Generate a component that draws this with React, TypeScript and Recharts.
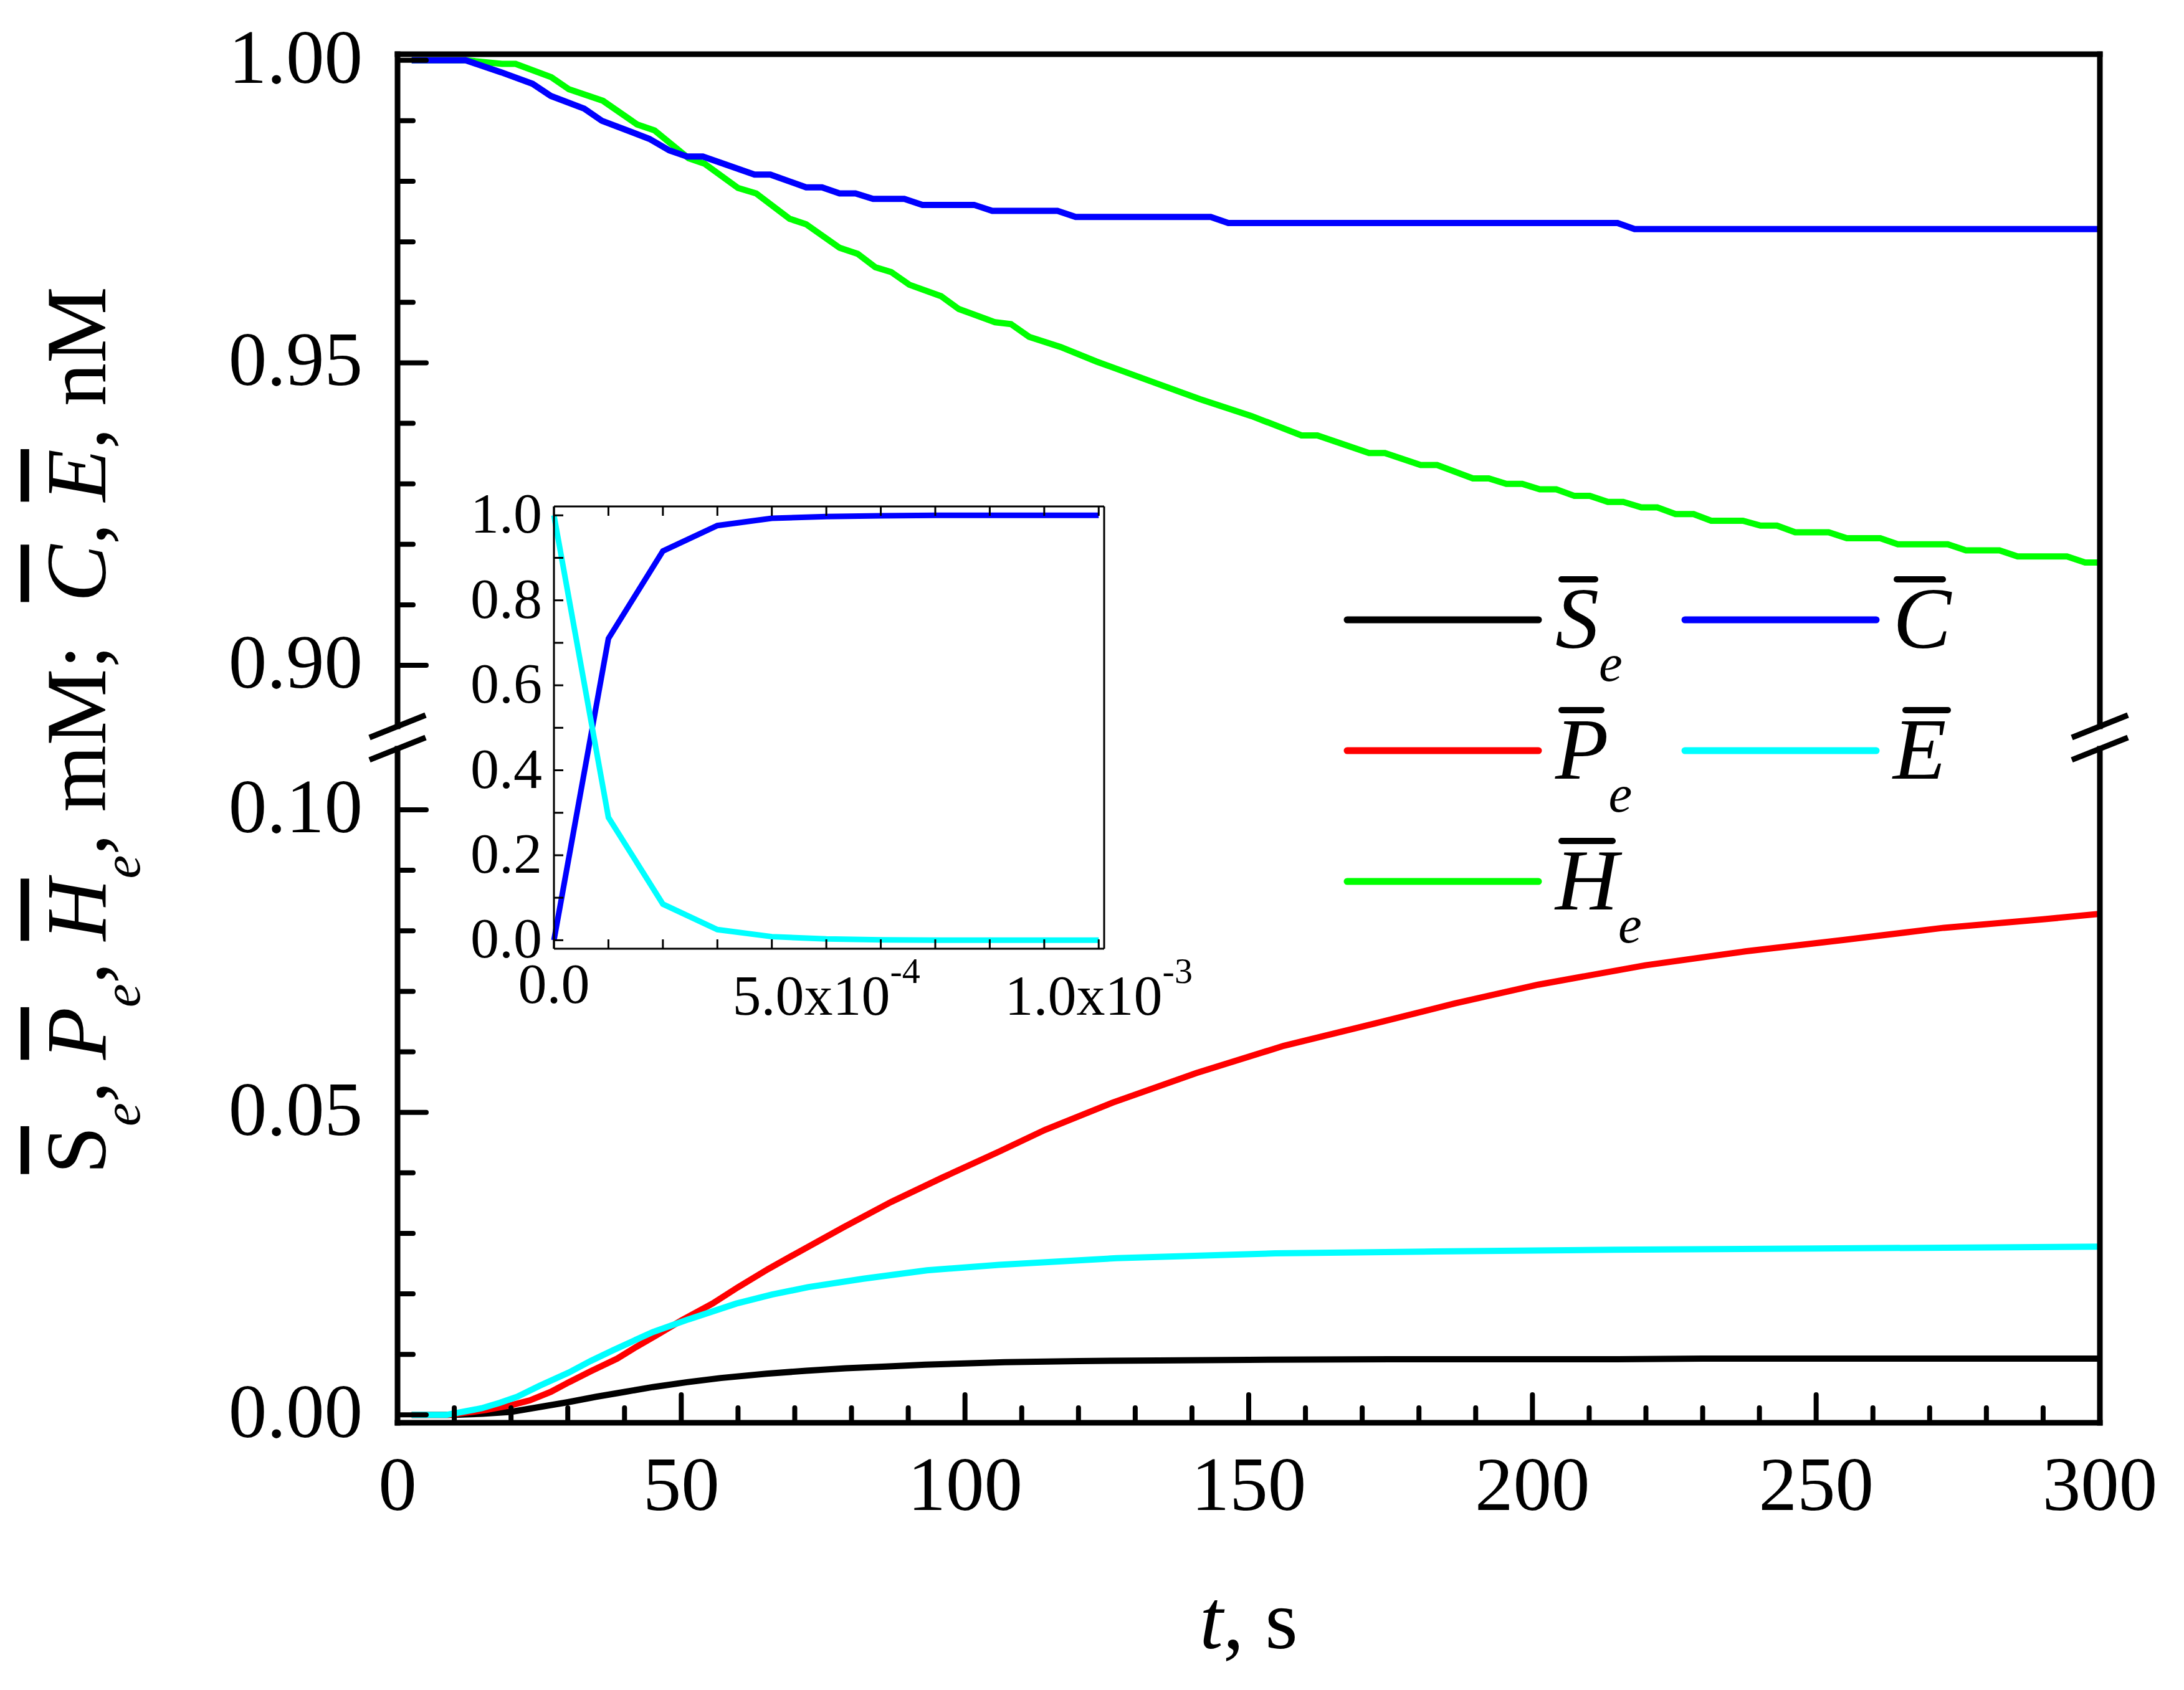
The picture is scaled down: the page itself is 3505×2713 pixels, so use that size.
import React from 'react';
import { LineChart, Line, XAxis, YAxis, ReferenceLine, Legend, Label } from 'recharts';

const FONT = '"Liberation Serif", "Times New Roman", serif';

// ---- main plot data: [t (s), value] ----
const sData: [number, number][] = [
  [2.5, 0], [10, 0], [15, 0.0002], [20, 0.0005], [25, 0.0013], [30, 0.0021], [35, 0.003],
  [40, 0.0038], [45, 0.0046], [51, 0.0054], [57, 0.0061], [65, 0.0068], [72, 0.0073],
  [79, 0.0077], [86, 0.008], [93, 0.0083], [100, 0.0085], [107, 0.0087], [120, 0.0089],
  [134, 0.009], [150, 0.0091], [175, 0.0092], [215, 0.0092], [230, 0.0093], [300, 0.0093],
];

const pData: [number, number][] = [
  [2.5, 0], [9, 0], [15.5, 0.0008], [20, 0.0016], [23.3, 0.0024], [27, 0.0038], [30.2, 0.0054],
  [34, 0.0072], [38.7, 0.0093], [42, 0.0112], [45.7, 0.0132], [50, 0.0156], [55.5, 0.0184],
  [60, 0.0211], [65.3, 0.0241], [72, 0.0276], [78.6, 0.031], [87, 0.0352], [96.2, 0.0393],
  [106, 0.0435], [114.1, 0.0471], [126, 0.0516], [140.8, 0.0565], [156.2, 0.061],
  [172.3, 0.0647], [186.3, 0.068], [201, 0.0711], [219.9, 0.0743], [237.5, 0.0766],
  [255, 0.0785], [272.5, 0.0805], [290, 0.0819], [300, 0.0828],
];

const eData: [number, number][] = [
  [2.5, 0], [8.6, 0], [14.8, 0.0011], [18, 0.002], [21.1, 0.003], [25, 0.0048], [30.2, 0.007],
  [34, 0.0089], [38, 0.0107], [45, 0.0137], [51.3, 0.0158], [59.7, 0.0184], [66, 0.0199],
  [72.3, 0.0211], [82.1, 0.0225], [93.3, 0.0239], [106, 0.0248], [126.7, 0.0259],
  [154.7, 0.0267], [182.7, 0.027], [214.3, 0.0273], [250, 0.0275], [300, 0.0278],
];

const hData: [number, number][] = [
  [2.5, 1.0], [12, 1.0], [18.4, 0.9994], [20.8, 0.9994], [27.1, 0.9972], [30.2, 0.9952],
  [36.2, 0.9933], [42.2, 0.9894], [45.3, 0.9884], [51.3, 0.9838], [54.1, 0.9829], [60, 0.9789],
  [63.2, 0.978], [69.1, 0.9738], [72, 0.9729], [77.9, 0.969], [81.1, 0.968], [84.2, 0.9658],
  [87, 0.965], [90.2, 0.9629], [95.8, 0.961], [98.9, 0.9589], [105.3, 0.9567], [108.1, 0.9564],
  [111.3, 0.9543], [116.9, 0.9526], [123.2, 0.9502], [132.3, 0.9471], [141.4, 0.944],
  [150.5, 0.9412], [159.3, 0.938], [162.1, 0.938], [171.2, 0.9351], [174, 0.9351],
  [180.3, 0.9331], [183.2, 0.9331], [189.5, 0.9309], [192.3, 0.9309], [195.4, 0.93],
  [198.2, 0.93], [201.3, 0.9291], [204.2, 0.9291], [207.4, 0.928], [210.1, 0.928],
  [213.3, 0.927], [216, 0.927], [219.2, 0.9261], [222, 0.9261], [225.2, 0.925], [228.4, 0.925],
  [231.5, 0.9239], [237.1, 0.9239], [240.2, 0.9231], [243.1, 0.9231], [246.3, 0.922],
  [252.2, 0.922], [255.4, 0.921], [261.3, 0.921], [264.4, 0.92], [273.2, 0.92], [276.4, 0.919],
  [282.3, 0.919], [285.5, 0.918], [294.2, 0.918], [297.4, 0.917], [300, 0.917],
];

const cData: [number, number][] = [
  [2.5, 1.0], [12, 1.0], [18.3, 0.998], [23.8, 0.9961], [27, 0.9941], [32.9, 0.992], [36, 0.99],
  [44.4, 0.987], [47.9, 0.9851], [51, 0.9841], [53.8, 0.9841], [62.9, 0.9811], [65.7, 0.9811],
  [72, 0.979], [74.8, 0.979], [77.9, 0.978], [80.7, 0.978], [83.8, 0.9771], [89.3, 0.9771],
  [92.5, 0.9761], [101.6, 0.9761], [104.8, 0.9751], [116.3, 0.9751], [119.5, 0.9741],
  [143.3, 0.9741], [146.4, 0.9731], [215, 0.9731], [218, 0.9721], [300, 0.9721],
];

// ---- inset data ----
const INSET_T = [0, 0.0001, 0.0002, 0.0003, 0.0004, 0.0005, 0.0006, 0.0007, 0.0008, 0.0009, 0.001];
const INSET_C = [0, 0.71, 0.916, 0.976, 0.993, 0.997, 0.999, 1, 1, 1, 1];
const INSET_E = [1, 0.289, 0.085, 0.025, 0.0084, 0.003, 0.001, 0, 0, 0, 0];

// ---- axes ----
const X_TICKS = [0, 10, 20, 30, 40, 50, 60, 70, 80, 90, 100, 110, 120, 130, 140, 150, 160, 170,
  180, 190, 200, 210, 220, 230, 240, 250, 260, 270, 280, 290, 300];
const X_LABELS = [0, 50, 100, 150, 200, 250, 300];
const Y_LOWER_TICKS = [0, 0.01, 0.02, 0.03, 0.04, 0.05, 0.06, 0.07, 0.08, 0.09, 0.1];
const Y_UPPER_TICKS = [0.9, 0.91, 0.92, 0.93, 0.94, 0.95, 0.96, 0.97, 0.98, 0.99, 1.0];
const Y_LABELS = [0, 0.05, 0.1, 0.9, 0.95, 1.0];

const INSET_X_TICKS = [0, 0.0001, 0.0002, 0.0003, 0.0004, 0.0005, 0.0006, 0.0007, 0.0008, 0.0009, 0.001];
const INSET_Y_TICKS = [0, 0.1, 0.2, 0.3, 0.4, 0.5, 0.6, 0.7, 0.8, 0.9, 1.0];
const INSET_Y_LABELS = [0, 0.2, 0.4, 0.6, 0.8, 1.0];

// axis break: the 0.90-1.00 band is moved down to sit just above 0.10
const UPPER_SHIFT = 0.77613;
const Y_MIN = -0.0013;
const Y_MAX = 1.001 - UPPER_SHIFT;
const toAxis = (v: number) => (v > 0.5 ? v - UPPER_SHIFT : v);
const fromAxis = (a: number) => (a > 0.115 ? a + UPPER_SHIFT : a);
const GAP_LO = 0.11009;
const GAP_MID = 0.11194;
const GAP_HI = 0.11379;
const SLASH_DX = 4.94;
const SLASH_DY = 0.0037;

const rows = (pts: [number, number][]) => pts.map(([t, v]) => ({ t, y: toAxis(v) }));
const Y_TICKS = [...Y_LOWER_TICKS, ...Y_UPPER_TICKS].map(toAxis);
const insetRows = INSET_T.map((t, i) => ({ t, c: INSET_C[i], e: INSET_E[i] }));

const has = (arr: number[], v: number) => arr.some((a) => Math.abs(a - v) < 1e-7);
const OL = { textDecoration: 'overline' };

const TICK_W = 8;

// ---- main ticks (drawn inward) ----
const LeftTick = ({ x, y, payload }: any) => {
  const v = fromAxis(payload.value);
  const major = has(Y_LABELS, v);
  return (
    <g>
      <line x1={x} x2={x + (major ? 46 : 25)} y1={y} y2={y} stroke="#000" strokeWidth={TICK_W} strokeLinecap="round" />
      {major && (
        <text x={x - 56} y={y + 36} textAnchor="end" fontSize={123} fontFamily={FONT} fill="#000">
          {v.toFixed(2)}
        </text>
      )}
    </g>
  );
};

const RightTick = ({ x, y, payload }: any) => {
  const major = has(Y_LABELS, fromAxis(payload.value));
  return <line x1={x} x2={x - (major ? 46 : 25)} y1={y} y2={y} stroke="#000" strokeWidth={TICK_W} strokeLinecap="round" />;
};

const BottomTick = ({ x, y, payload }: any) => {
  const major = has(X_LABELS, payload.value);
  return (
    <g>
      <line x1={x} x2={x} y1={y} y2={y - (major ? 45 : 24)} stroke="#000" strokeWidth={TICK_W} strokeLinecap="round" />
      {major && (
        <text x={x} y={y + 140} textAnchor="middle" fontSize={123} fontFamily={FONT} fill="#000">
          {payload.value}
        </text>
      )}
    </g>
  );
};

const TopTick = ({ x, y, payload }: any) => {
  const major = has(X_LABELS, payload.value);
  return <line x1={x} x2={x} y1={y} y2={y + (major ? 45 : 24)} stroke="#000" strokeWidth={TICK_W} strokeLinecap="round" />;
};

// ---- inset ticks ----
const InsetLeftTick = ({ x, y, payload }: any) => {
  const v = payload.value;
  return (
    <g>
      <line x1={x} x2={x + 15} y1={y} y2={y} stroke="#000" strokeWidth={3} />
      {has(INSET_Y_LABELS, v) && (
        <text x={x - 19} y={y + 28} textAnchor="end" fontSize={92} fontFamily={FONT} fill="#000">
          {v.toFixed(1)}
        </text>
      )}
    </g>
  );
};

const InsetRightTick = ({ x, y }: any) => (
  <line x1={x} x2={x - 15} y1={y} y2={y} stroke="#000" strokeWidth={3} />
);

const InsetBottomTick = ({ x, y, payload }: any) => {
  const v = payload.value;
  let label: React.ReactNode = null;
  if (v === 0) {
    label = (
      <text x={x} y={y + 87} textAnchor="middle" fontSize={92} fontFamily={FONT} fill="#000">0.0</text>
    );
  } else if (has([0.0005, 0.001], v)) {
    const exp = v < 0.0008 ? '-4' : '-3';
    const mant = v < 0.0008 ? '5.0x10' : '1.0x10';
    label = (
      <text x={x} y={y + 106} textAnchor="middle" fontSize={92} fontFamily={FONT} fill="#000">
        <tspan>{mant}</tspan>
        <tspan dy={-51} fontSize={58}>{exp}</tspan>
      </text>
    );
  }
  return (
    <g>
      <line x1={x} x2={x} y1={y} y2={y - 15} stroke="#000" strokeWidth={3} />
      {label}
    </g>
  );
};

const InsetTopTick = ({ x, y }: any) => (
  <line x1={x} x2={x} y1={y} y2={y + 15} stroke="#000" strokeWidth={3} />
);

// ---- titles ----
const YTitle = ({ viewBox }: any) => {
  const cx = viewBox.x + viewBox.width - 469;
  const cy = viewBox.y + viewBox.height / 2 - 13;
  return (
    <text
      x={cx}
      y={cy}
      transform={`rotate(-90, ${cx}, ${cy})`}
      textAnchor="middle"
      fontSize={138}
      fontFamily={FONT}
      fill="#000"
      style={{ whiteSpace: 'pre' }}
    >
      <tspan style={OL}>S</tspan>
      <tspan dy={55} fontSize={85} fontStyle="italic">e</tspan>
      <tspan dy={-55}>, </tspan>
      <tspan fontStyle="italic" style={OL}>P</tspan>
      <tspan dy={55} fontSize={85} fontStyle="italic">e</tspan>
      <tspan dy={-55}>, </tspan>
      <tspan fontStyle="italic" style={OL}>H</tspan>
      <tspan dy={55} fontSize={85} fontStyle="italic">e</tspan>
      <tspan dy={-55}>, mM;  </tspan>
      <tspan fontStyle="italic" style={OL}>C</tspan>
      <tspan>, </tspan>
      <tspan fontStyle="italic" style={OL}>E</tspan>
      <tspan>, nM</tspan>
    </text>
  );
};

const XTitle = ({ viewBox }: any) => (
  <text
    x={viewBox.x + viewBox.width / 2}
    y={viewBox.y + 362}
    textAnchor="middle"
    fontSize={135}
    fontFamily={FONT}
    fill="#000"
  >
    <tspan fontStyle="italic">t</tspan>
    <tspan>, s</tspan>
  </text>
);

// ---- legend ----
const LEGEND_ROWS = [
  { col: 0, row: 0, color: '#000000', sym: 'S', sub: true },
  { col: 0, row: 1, color: '#FF0000', sym: 'P', sub: true },
  { col: 0, row: 2, color: '#00FF00', sym: 'H', sub: true },
  { col: 1, row: 0, color: '#0000FF', sym: 'C', sub: false },
  { col: 1, row: 1, color: '#00FFFF', sym: 'E', sub: false },
];
// overbar extent above each symbol, relative to the legend line start
const BAR: Record<string, [number, number]> = {
  S: [344, 398], P: [344, 408], H: [344, 426], C: [340, 414], E: [354, 422],
};

const LegendBox = () => (
  <svg width={1000} height={640} style={{ overflow: 'visible' }}>
    {LEGEND_ROWS.map((r) => {
      const x0 = r.col === 0 ? 22 : 564;
      const ly = 95 + r.row * 210;
      return (
        <g key={r.sym}>
          <line x1={x0} x2={x0 + 307} y1={ly} y2={ly} stroke={r.color} strokeWidth={11} strokeLinecap="round" />
          <line x1={x0 + BAR[r.sym][0]} x2={x0 + BAR[r.sym][1]} y1={ly - 65} y2={ly - 65} stroke="#000" strokeWidth={10} strokeLinecap="round" />
          <text x={x0 + 334} y={ly + 45} fontSize={140} fontFamily={FONT} fontStyle="italic" fill="#000">
            <tspan>{r.sym}</tspan>
            {r.sub && <tspan dy={53} fontSize={85}>e</tspan>}
          </text>
        </g>
      );
    })}
  </svg>
);

const FRAME = { stroke: '#000', strokeWidth: 9, strokeLinecap: 'square' as const };
const LW = 10;

export default function App() {
  return (
    <div style={{ position: 'absolute', left: 0, top: 0, width: 3505, height: 2713, background: '#fff' }}>
      <LineChart width={3505} height={2713} margin={{ top: 86, left: 637, right: 134, bottom: 428 }}>
        <XAxis
          type="number"
          dataKey="t"
          domain={[0, 300]}
          ticks={X_TICKS}
          interval={0}
          height={1}
          axisLine={false}
          tickLine={false}
          tickSize={0}
          tickMargin={0}
          tick={BottomTick}
        >
          <Label content={XTitle} />
        </XAxis>
        <XAxis
          xAxisId="top"
          orientation="top"
          type="number"
          dataKey="t"
          domain={[0, 300]}
          ticks={X_TICKS}
          interval={0}
          height={1}
          axisLine={false}
          tickLine={false}
          tickSize={0}
          tickMargin={0}
          tick={TopTick}
        />
        <YAxis
          type="number"
          domain={[Y_MIN, Y_MAX]}
          ticks={Y_TICKS}
          interval={0}
          width={1}
          axisLine={false}
          tickLine={false}
          tickSize={0}
          tickMargin={0}
          tick={LeftTick}
        >
          <Label content={YTitle} />
        </YAxis>
        <YAxis
          yAxisId="right"
          orientation="right"
          type="number"
          domain={[Y_MIN, Y_MAX]}
          ticks={Y_TICKS}
          interval={0}
          width={1}
          axisLine={false}
          tickLine={false}
          tickSize={0}
          tickMargin={0}
          tick={RightTick}
        />

        <Line data={rows(sData)} dataKey="y" type="linear" stroke="#000000" strokeWidth={LW} dot={false} isAnimationActive={false} name="S" />
        <Line data={rows(pData)} dataKey="y" type="linear" stroke="#FF0000" strokeWidth={LW} dot={false} isAnimationActive={false} name="P" />
        <Line data={rows(hData)} dataKey="y" type="linear" stroke="#00FF00" strokeWidth={LW} dot={false} isAnimationActive={false} name="H" />
        <Line data={rows(cData)} dataKey="y" type="linear" stroke="#0000FF" strokeWidth={LW} dot={false} isAnimationActive={false} name="C" />
        <Line data={rows(eData)} dataKey="y" type="linear" stroke="#00FFFF" strokeWidth={LW} dot={false} isAnimationActive={false} name="E" />

        {/* frame, with the axis break left open */}
        <ReferenceLine segment={[{ x: 0, y: Y_MIN }, { x: 300, y: Y_MIN }]} ifOverflow="visible" {...FRAME} />
        <ReferenceLine segment={[{ x: 0, y: Y_MAX }, { x: 300, y: Y_MAX }]} ifOverflow="visible" {...FRAME} />
        <ReferenceLine segment={[{ x: 0, y: Y_MIN }, { x: 0, y: GAP_LO }]} ifOverflow="visible" {...FRAME} />
        <ReferenceLine segment={[{ x: 0, y: GAP_HI }, { x: 0, y: Y_MAX }]} ifOverflow="visible" {...FRAME} />
        <ReferenceLine segment={[{ x: 300, y: Y_MIN }, { x: 300, y: GAP_LO }]} ifOverflow="visible" {...FRAME} />
        <ReferenceLine segment={[{ x: 300, y: GAP_HI }, { x: 300, y: Y_MAX }]} ifOverflow="visible" {...FRAME} />
        {[0, 300].map((xb) =>
          [GAP_MID - SLASH_DY, GAP_MID].map((yb) => (
            <ReferenceLine
              key={`${xb}-${yb}`}
              segment={[{ x: xb - SLASH_DX, y: yb }, { x: xb + SLASH_DX, y: yb + SLASH_DY }]}
              ifOverflow="visible"
              stroke="#000"
              strokeWidth={9}
            />
          ))
        )}

        <Legend
          layout="vertical"
          align="center"
          verticalAlign="middle"
          content={LegendBox}
          wrapperStyle={{ position: 'absolute', left: 2140, top: 900, width: 1000, height: 640 }}
        />
      </LineChart>

      <div style={{ position: 'absolute', left: 700, top: 760 }}>
        <LineChart width={1320} height={900} data={insetRows} margin={{ top: 52, left: 188, right: 247, bottom: 136 }}>
          <XAxis type="number" dataKey="t" domain={[0, 0.00101]} ticks={INSET_X_TICKS} interval={0} height={1}
            axisLine={{ stroke: '#000', strokeWidth: 3 }} tickLine={false} tickSize={0} tickMargin={0} tick={InsetBottomTick} />
          <XAxis xAxisId="top" orientation="top" type="number" dataKey="t" domain={[0, 0.00101]} ticks={INSET_X_TICKS} interval={0} height={1}
            axisLine={{ stroke: '#000', strokeWidth: 3 }} tickLine={false} tickSize={0} tickMargin={0} tick={InsetTopTick} />
          <YAxis type="number" domain={[-0.02, 1.021]} ticks={INSET_Y_TICKS} interval={0} width={1}
            axisLine={{ stroke: '#000', strokeWidth: 3 }} tickLine={false} tickSize={0} tickMargin={0} tick={InsetLeftTick} />
          <YAxis yAxisId="right" orientation="right" type="number" domain={[-0.02, 1.021]} ticks={INSET_Y_TICKS} interval={0} width={1}
            axisLine={{ stroke: '#000', strokeWidth: 3 }} tickLine={false} tickSize={0} tickMargin={0} tick={InsetRightTick} />
          <Line dataKey="c" type="linear" stroke="#0000FF" strokeWidth={9} dot={false} isAnimationActive={false} />
          <Line dataKey="e" type="linear" stroke="#00FFFF" strokeWidth={9} dot={false} isAnimationActive={false} />
        </LineChart>
      </div>
    </div>
  );
}
